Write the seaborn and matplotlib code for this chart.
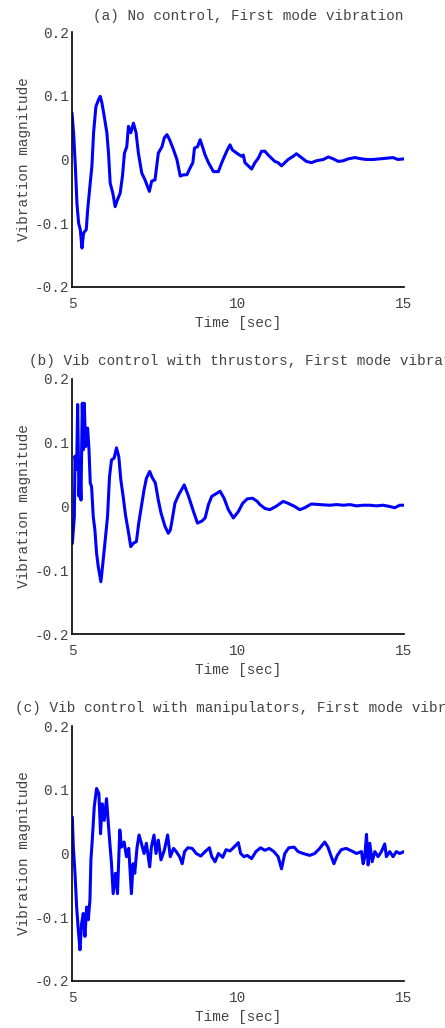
import numpy as np
import pandas as pd
import matplotlib
matplotlib.use("Agg")
import matplotlib.pyplot as plt
import seaborn as sns

# ---------------- data ----------------
time_a = [5.00, 5.05, 5.10, 5.15, 5.20, 5.25, 5.30, 5.35, 5.43, 5.47, 5.53, 5.60, 5.65, 5.72,
          5.80, 5.85, 5.90, 5.97, 6.05, 6.10, 6.15, 6.23, 6.30, 6.37, 6.45, 6.52, 6.58, 6.65,
          6.70, 6.77, 6.85, 6.93, 7.00, 7.10, 7.20, 7.33, 7.40, 7.50, 7.60, 7.71, 7.78, 7.86,
          7.94, 8.06, 8.16, 8.26, 8.36, 8.46, 8.56, 8.64, 8.69, 8.78, 8.86, 8.93, 9.01, 9.11,
          9.26, 9.41, 9.51, 9.66, 9.76, 9.83, 9.96, 10.11, 10.16, 10.21, 10.31, 10.41, 10.51,
          10.61, 10.71, 10.81, 10.91, 11.01, 11.11, 11.21, 11.31, 11.41, 11.51, 11.66, 11.76,
          11.86, 11.96, 12.06, 12.21, 12.36, 12.57, 12.72, 12.87, 13.02, 13.17, 13.32, 13.52,
          13.72, 13.87, 14.07, 14.27, 14.47, 14.67, 14.82, 15.00]
vib_a = [0.073, 0.040, -0.010, -0.070, -0.100, -0.110, -0.139, -0.115, -0.110, -0.080, -0.047,
         -0.010, 0.042, 0.083, 0.094, 0.099, 0.089, 0.068, 0.042, 0.010, -0.037, -0.053, -0.074,
         -0.063, -0.053, -0.026, 0.010, 0.020, 0.052, 0.042, 0.057, 0.042, 0.010, -0.021, -0.032,
         -0.050, -0.034, -0.032, 0.010, 0.020, 0.034, 0.039, 0.031, 0.015, 0.000, -0.026, -0.024,
         -0.024, -0.013, -0.005, 0.018, 0.020, 0.031, 0.020, 0.007, -0.005, -0.019, -0.019,
         -0.005, 0.013, 0.023, 0.015, 0.010, 0.005, 0.007, -0.005, -0.010, -0.015, -0.005, 0.002,
         0.013, 0.013, 0.007, 0.002, -0.003, -0.005, -0.010, -0.005, 0.000, 0.005, 0.009, 0.005,
         0.001, -0.003, -0.005, -0.002, 0.000, 0.004, 0.001, -0.003, -0.002, 0.001, 0.003, 0.001,
         0.000, 0.000, 0.001, 0.002, 0.003, 0.000, 0.001]

time_b = [5.01, 5.07, 5.09, 5.14, 5.17, 5.21, 5.24, 5.27, 5.31, 5.34, 5.37, 5.41, 5.47, 5.51,
          5.55, 5.59, 5.64, 5.69, 5.74, 5.79, 5.87, 5.91, 5.99, 6.07, 6.13, 6.19, 6.27, 6.34,
          6.41, 6.47, 6.54, 6.61, 6.69, 6.77, 6.84, 6.94, 7.01, 7.09, 7.17, 7.24, 7.34, 7.41,
          7.51, 7.60, 7.68, 7.80, 7.90, 7.96, 8.00, 8.10, 8.21, 8.38, 8.51, 8.66, 8.78, 8.91,
          9.01, 9.11, 9.21, 9.34, 9.46, 9.58, 9.71, 9.86, 10.01, 10.14, 10.28, 10.44, 10.58,
          10.66, 10.81, 10.96, 11.14, 11.36, 11.51, 11.71, 11.86, 12.01, 12.21, 12.46, 12.77,
          12.97, 13.17, 13.37, 13.57, 13.77, 13.97, 14.17, 14.37, 14.57, 14.72, 14.87, 15.00]
vib_b = [-0.058, -0.016, 0.079, 0.058, 0.160, 0.016, 0.063, 0.010, 0.162, 0.089, 0.162, 0.094,
         0.123, 0.091, 0.037, 0.031, -0.016, -0.037, -0.073, -0.094, -0.118, -0.099, -0.058,
         -0.016, 0.047, 0.073, 0.076, 0.092, 0.078, 0.042, 0.016, -0.013, -0.037, -0.063, -0.058,
         -0.055, -0.026, 0.000, 0.026, 0.044, 0.055, 0.046, 0.037, 0.010, -0.010, -0.031, -0.042,
         -0.037, -0.026, 0.005, 0.018, 0.034, 0.016, -0.008, -0.026, -0.023, -0.018, 0.003, 0.016,
         0.020, 0.024, 0.013, -0.005, -0.018, -0.008, 0.005, 0.012, 0.013, 0.008, 0.003, -0.003,
         -0.005, 0.000, 0.008, 0.005, 0.000, -0.005, -0.002, 0.004, 0.003, 0.002, 0.003, 0.002,
         0.003, 0.001, 0.002, 0.002, 0.001, 0.002, 0.000, -0.002, 0.002, 0.002]

time_c = [5.01, 5.04, 5.09, 5.14, 5.19, 5.24, 5.29, 5.34, 5.39, 5.44, 5.49, 5.54, 5.57, 5.61,
          5.67, 5.74, 5.81, 5.86, 5.91, 5.97, 6.04, 6.09, 6.14, 6.19, 6.24, 6.31, 6.37, 6.44,
          6.49, 6.57, 6.64, 6.71, 6.79, 6.84, 6.89, 6.96, 7.02, 7.09, 7.17, 7.24, 7.34, 7.39,
          7.47, 7.53, 7.60, 7.68, 7.78, 7.88, 7.96, 8.06, 8.14, 8.24, 8.32, 8.39, 8.49, 8.62,
          8.74, 8.88, 9.01, 9.14, 9.21, 9.31, 9.41, 9.54, 9.64, 9.76, 9.88, 10.01, 10.08, 10.18,
          10.28, 10.41, 10.54, 10.68, 10.81, 10.94, 11.08, 11.21, 11.31, 11.41, 11.53, 11.69,
          11.81, 11.96, 12.16, 12.31, 12.46, 12.61, 12.71, 12.81, 12.89, 12.99, 13.11, 13.26,
          13.42, 13.57, 13.72, 13.77, 13.82, 13.87, 13.92, 13.97, 14.04, 14.12, 14.22, 14.32,
          14.42, 14.47, 14.57, 14.67, 14.77, 14.87, 15.00]
vib_c = [0.057, 0.010, -0.031, -0.084, -0.120, -0.151, -0.110, -0.094, -0.130, -0.084, -0.104,
         -0.073, -0.010, 0.021, 0.073, 0.102, 0.094, 0.031, 0.078, 0.052, 0.086, 0.050, 0.016,
         -0.016, -0.063, -0.031, -0.063, 0.037, 0.010, 0.018, -0.005, 0.008, -0.063, -0.016,
         -0.031, 0.010, 0.029, 0.016, 0.000, 0.016, -0.021, 0.010, 0.029, 0.000, 0.021, -0.010,
         0.005, 0.029, -0.005, 0.008, 0.003, -0.005, -0.016, 0.003, 0.009, 0.008, 0.000, -0.004,
         0.003, 0.009, -0.005, -0.013, 0.000, -0.006, 0.006, 0.004, 0.010, 0.017, 0.000, -0.005,
         -0.003, -0.008, 0.003, 0.009, 0.005, 0.008, 0.003, -0.005, -0.024, 0.000, 0.009, 0.010,
         0.003, 0.000, -0.003, 0.000, 0.008, 0.018, 0.010, -0.005, -0.016, -0.003, 0.006, 0.008,
         0.004, 0.000, 0.003, -0.016, -0.005, 0.030, -0.018, 0.016, -0.013, 0.003, -0.005, 0.003,
         0.015, -0.005, 0.003, -0.005, 0.003, 0.000, 0.003]

titles = ["(a) No control, First mode vibration",
          "(b) Vib control with thrustors, First mode vibration",
          "(c) Vib control with manipulators, First mode vibration"]
x_ticks = [5, 10, 15]
x_tick_labels = ["5", "10", "15"]
y_ticks = [-0.2, -0.1, 0.0, 0.1, 0.2]
y_tick_labels = ["-0.2", "-0.1", "0", "0.1", "0.2"]
x_label = "Time [sec]"
y_label = "Vibration magnitude"

# ---------------- style ----------------
sns.set_style("white")
plt.rcParams["font.family"] = ["Liberation Mono", "DejaVu Sans Mono"]
FS = 10.4
TXT = "#444444"

W, H = 445, 1028
fig = plt.figure(figsize=(W / 100, H / 100), dpi=100)

panels = [(time_a, vib_a), (time_b, vib_b), (time_c, vib_c)]
ax_tops = [32, 379, 726]
ax_bots = [287, 634, 981]
title_x = [93, 29, 15]
title_y = [16, 361, 708]
ax_left, ax_right = 72, 404

for i, (t, v) in enumerate(panels):
    ax = fig.add_axes([ax_left / W, 1 - ax_bots[i] / H,
                       (ax_right - ax_left) / W, (ax_bots[i] - ax_tops[i]) / H])
    df = pd.DataFrame({"t": t, "v": v})
    sns.lineplot(data=df, x="t", y="v", ax=ax, color="#0000ff", lw=2.2,
                 sort=False, estimator=None)
    ax.set_xlim(5, 15)
    ax.set_ylim(-0.2, 0.2)
    ax.set_xticks(x_ticks)
    ax.set_xticklabels(x_tick_labels)
    ax.set_yticks(y_ticks)
    ax.set_yticklabels(y_tick_labels)
    ax.tick_params(direction="in", length=4, width=1.0, color="black",
                   labelsize=FS, labelcolor=TXT)
    ax.tick_params(axis="y", pad=2)
    ax.tick_params(axis="x", pad=7)
    for s in ["top", "right"]:
        ax.spines[s].set_visible(False)
    for s in ["left", "bottom"]:
        ax.spines[s].set_color("black")
        ax.spines[s].set_linewidth(1.2)
    ax.set_xlabel(x_label, fontsize=FS, color=TXT, labelpad=4)
    ax.set_ylabel(y_label, fontsize=FS, color=TXT, labelpad=3)
    fig.text(title_x[i] / W, 1 - title_y[i] / H, titles[i], ha="left", va="center",
             fontsize=FS, color=TXT)

fig.savefig("out.png", dpi=100, facecolor="white")
